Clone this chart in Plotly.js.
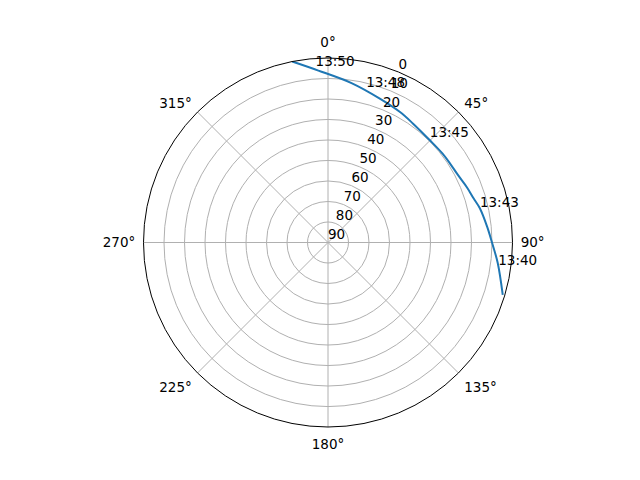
<!DOCTYPE html>
<html>
<head>
<meta charset="utf-8">
<script src="https://cdn.plot.ly/plotly-3.0.1.min.js"></script>
<style>
  html, body { margin: 0; padding: 0; background: #fff; }
  #plot { width: 640px; height: 480px; }
</style>
</head>
<body>
<div id="plot"></div>
<script>
// satellite pass, azimuth (deg, clockwise from north) and elevation (deg)
var azimuth = [106.7, 96.9, 90.0, 84.3, 77.2, 73.1, 68.3, 62.4, 57.0, 52.1, 44.9, 35.6, 28.9, 19.8, 8.4, -3.2, -11.2];
var elevation = [1.0, 6.6, 10.0, 12.0, 14.1, 15.8, 17.1, 18.6, 19.1, 19.3, 19.6, 18.7, 17.3, 15.4, 11.4, 6.0, 0.0];

var label_times = ['13:40', '13:43', '13:45', '13:48', '13:50'];
var label_az = [98.6, 78.2, 44.9, 14.1, -4.1];
var label_el = [6.0, 14.3, 19.6, 13.6, 5.3];

var angle_ticks = [0, 45, 90, 135, 180, 225, 270, 315];
var radial_ticks = [0, 10, 20, 30, 40, 50, 60, 70, 80, 90];
var rlabel_angle = 22.5;

var font = {family: 'DejaVu Sans', size: 13.5, color: '#000'};

var track = {
    type: 'scatterpolar',
    mode: 'lines',
    r: elevation,
    theta: azimuth,
    line: {color: '#1f77b4', width: 2, shape: 'spline', smoothing: 1},
    hoverinfo: 'skip'
};

var labels = {
    type: 'scatterpolar',
    mode: 'text',
    r: label_el,
    theta: label_az,
    text: label_times,
    textposition: 'top right',
    textfont: font,
    marker: {size: 0},
    cliponaxis: false,
    hoverinfo: 'skip'
};

// radial tick labels, matplotlib style, along the 22.5 deg line
var rlabels = {
    type: 'scatterpolar',
    mode: 'text',
    r: radial_ticks,
    theta: radial_ticks.map(function () { return rlabel_angle; }),
    text: radial_ticks.map(String),
    textposition: 'top right',
    textfont: font,
    cliponaxis: false,
    hoverinfo: 'skip'
};

var layout = {
    width: 640,
    height: 480,
    showlegend: false,
    paper_bgcolor: '#fff',
    margin: {l: 96, r: 80, t: 57.6, b: 52.8},
    font: font,
    polar: {
        bgcolor: '#fff',
        angularaxis: {
            rotation: 90,
            direction: 'clockwise',
            tickmode: 'array',
            tickvals: angle_ticks,
            ticktext: angle_ticks.map(function (a) { return a + '°'; }),
            ticks: 'outside',
            ticklen: 5,
            tickcolor: 'rgba(0,0,0,0)',
            showline: true,
            linecolor: '#000',
            linewidth: 1,
            gridcolor: '#b0b0b0',
            gridwidth: 1
        },
        radialaxis: {
            range: [90, 0],
            tickmode: 'array',
            tickvals: radial_ticks,
            ticks: '',
            showticklabels: false,
            showline: false,
            gridcolor: '#b0b0b0',
            gridwidth: 1
        }
    }
};

Plotly.newPlot('plot', [track, rlabels, labels], layout, {staticPlot: true});
</script>
</body>
</html>
